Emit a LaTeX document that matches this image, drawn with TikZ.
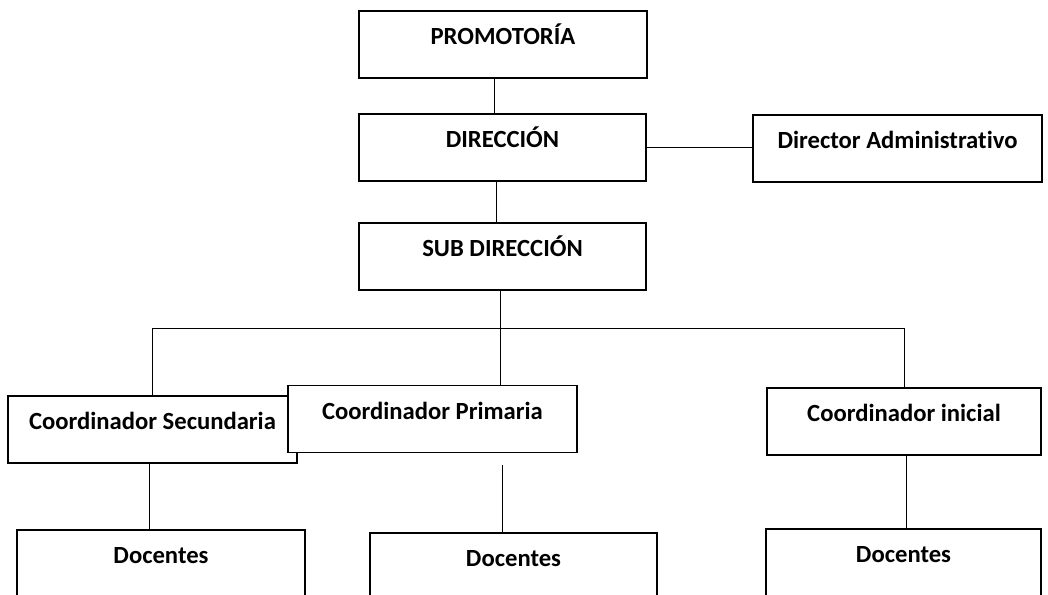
\documentclass[tikz,border=0pt]{standalone}
\usepackage{fontspec}
\setmainfont[Ligatures=NoCommon]{Carlito}
\usetikzlibrary{calc}

\begin{document}
\begin{tikzpicture}[x=0.75pt,y=0.75pt,yscale=-1,xscale=1,
  caja/.style={draw, line width=1.1pt, fill=white, inner sep=0pt,
    text height=25.1pt, text depth=25.1pt,
    font=\fontsize{18.5}{22}\selectfont\bfseries},
  linea/.style={line width=0.7pt}]
\useasboundingbox (0,0) rectangle (1048,594);
\clip (0,0) rectangle (1048,594);

% Cajas
\node[caja, minimum width=216pt] (promotoria) at (503,44.5) {PROMOTORÍA};
\node[caja, minimum width=215.25pt] (direccion) at (502.5,147.5) {DIRECCIÓN};
\node[caja, minimum width=216.75pt] (admin) at (897.5,148.5) {Director Administrativo};
\node[caja, minimum width=215.25pt] (subdir) at (502.5,256.5) {SUB DIRECCIÓN};
\node[caja, minimum width=216.75pt] (secundaria) at (152.5,429.5) {Coordinador Secundaria};
\node[caja, minimum width=216.75pt] (primaria) at (432.5,419) {Coordinador Primaria};
\node[caja, minimum width=205.5pt] (inicial) at (904,421.5) {Coordinador inicial};
\node[caja, minimum width=216pt] (docsec) at (161,563.5) {Docentes};
\node[caja, minimum width=215.25pt] (docpri) at (513.5,566.5) {Docentes};
\node[caja, minimum width=206.25pt] (docini) at (903.5,562.5) {Docentes};

% Lineas
\draw[linea] ($(promotoria.south)+(-9,0)$) -- ($(direccion.north)+(-8.5,0)$);
\draw[linea] ($(direccion.south)+(-6.5,0)$) -- ($(subdir.north)+(-6.5,0)$);
\draw[linea] ($(direccion.east)+(0,-0.5)$) -- ($(admin.west)+(0,-1.5)$);
\coordinate (bus) at ($(subdir.south)+(-2.5,37.5)$);
\draw[linea] ($(subdir.south)+(-2.5,0)$) -- (bus);
\draw[linea] (secundaria.north) -- (secundaria.north |- bus) -- (inicial.north |- bus) -- (inicial.north);
\draw[linea] (bus) -- (bus |- primaria.north);

\coordinate (s1) at ($(secundaria.south)+(-3.5,0)$);
\coordinate (p1) at ($(primaria.south)+(69.5,12)$);
\coordinate (i1) at ($(inicial.south)+(2,0)$);
\draw[linea] (s1) -- (s1 |- docsec.north);
\draw[linea] (p1) -- (p1 |- docpri.north);
\draw[linea] (i1) -- (i1 |- docini.north);

\end{tikzpicture}
\end{document}
